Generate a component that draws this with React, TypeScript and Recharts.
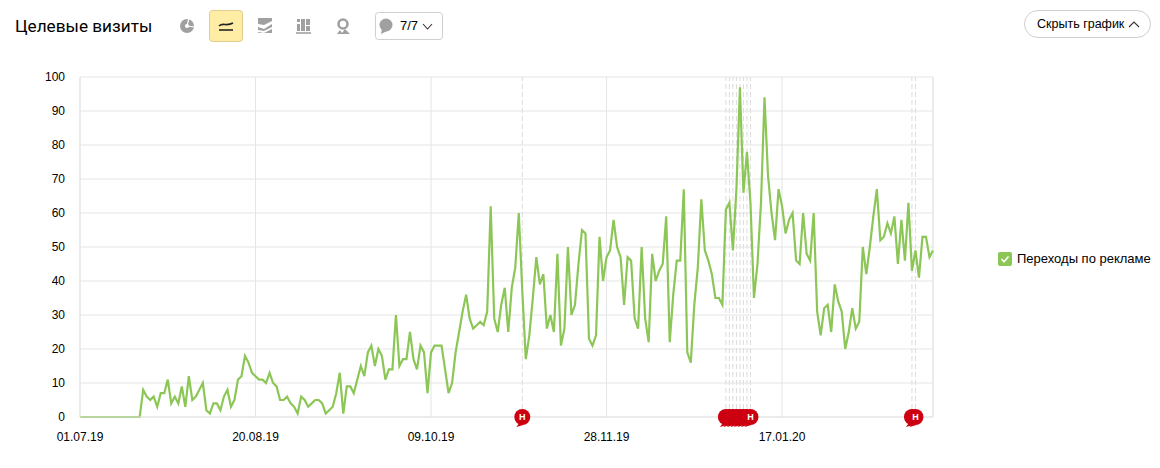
import { CartesianGrid, Legend, Line, LineChart, ReferenceDot, ReferenceLine, XAxis, YAxis } from "recharts";

const visits = [
  0, 0, 0, 0, 0, 0, 0, 0, 0, 0, 0, 0, 0, 0, 0, 0, 0, 0,
  8, 6, 5, 6, 3, 7, 7, 11, 4, 6, 4, 9, 3, 12, 5, 6, 8, 10, 2, 1, 4, 4, 2, 6,
  8, 3, 5, 11, 12, 18, 16, 13, 12, 11, 11, 10, 13, 10, 9, 5, 5, 6, 4, 3, 1, 6,
  5, 3, 4, 5, 5, 4, 1, 2, 3, 7, 13, 1, 9, 9, 7, 11, 15, 12, 19, 21, 15, 20, 18, 11,
  14, 14, 30, 15, 17, 17, 25, 17, 14, 21, 19, 7, 19, 21, 21, 21, 14, 7, 10, 19, 25, 31,
  36, 29, 26, 27, 28, 27, 31, 62, 29, 25, 33, 38, 25, 38, 44, 60, 37, 17, 24, 35,
  47, 39, 42, 26, 30, 25, 48, 21, 26, 50, 30, 33, 45, 55, 54, 23, 21, 24, 53, 40,
  47, 49, 58, 50, 47, 33, 47, 46, 29, 26, 50, 29, 22, 48, 40, 43, 45, 59, 22, 36,
  46, 46, 67, 19, 16, 33, 44, 64, 49, 46, 42, 35, 35, 33, 61, 63, 49, 67, 97, 66,
  78, 63, 35, 45, 63, 94, 71, 60, 52, 67, 62, 54, 58, 60, 46, 45, 60, 48, 46, 60,
  31, 24, 32, 33, 25, 39, 34, 31, 20, 25, 32, 26, 28, 50, 42, 50, 59, 67, 52, 53,
  57, 54, 59, 45, 58, 46, 63, 43, 49, 41, 53, 53, 47, 49,
];

const xTicks = ["01.07.19", "20.08.19", "09.10.19", "28.11.19", "17.01.20"];
const yTicks = [0, 10, 20, 30, 40, 50, 60, 70, 80, 90, 100];
const notes = [
  "04.11.19",
  "01.01.20",
  "02.01.20",
  "03.01.20",
  "04.01.20",
  "05.01.20",
  "06.01.20",
  "07.01.20",
  "08.01.20",
  "23.02.20",
  "24.02.20",
];
// overlapping flags only show the letter on the topmost one
const notesWithLetter = ["04.11.19", "08.01.20", "24.02.20"];

const two = (n: number) => String(n).padStart(2, "0");
const dates = visits.map((_, i) => {
  const d = new Date(Date.UTC(2019, 6, 1 + i));
  return `${two(d.getUTCDate())}.${two(d.getUTCMonth() + 1)}.${two(d.getUTCFullYear() % 100)}`;
});
const data = visits.map((value, i) => ({ date: dates[i], value }));

const GREEN = "#8cc657";
const GRID = "#e5e5e5";
const ARIAL = "'Liberation Sans', Arial, sans-serif";

function NoteMark({ cx, cy, letter }: any) {
  return (
    <g>
      <path d={`M${cx - 3} ${cy + 6} L${cx - 6} ${cy + 10} L${cx + 1} ${cy + 8} Z`} fill="#cc0011" />
      <circle cx={cx} cy={cy} r={8} fill="#cc0011" />
      {letter && (
        <text x={cx} y={cy + 3} textAnchor="middle" fontSize={9} fontWeight="bold" fontFamily={ARIAL} fill="#fff">
          Н
        </text>
      )}
    </g>
  );
}

function LegendBox() {
  return (
    <div style={{ display: "flex", alignItems: "center", fontFamily: ARIAL, fontSize: 13, color: "#000" }}>
      <svg width={14} height={14} style={{ marginRight: 5 }}>
        <rect width={14} height={14} rx={2} fill={GREEN} />
        <path d="M3.5 7 L6 9.8 L10.5 4.5" fill="none" stroke="#fff" strokeWidth={1.6} />
      </svg>
      Переходы по рекламе
    </div>
  );
}

function Toolbar() {
  const grey = "#a0a0a0";
  return (
    <svg width={460} height={50} style={{ position: "absolute", left: 0, top: 0 }}>
      {/* pie */}
      <circle cx={187} cy={26} r={7} fill={grey} />
      <circle cx={187} cy={26} r={2} fill="#fff" />
      <path d="M187 26 L189 18 M187 26 L195 27" stroke="#fff" strokeWidth={1.2} />
      {/* active line button */}
      <rect x={209.5} y={10.5} width={33} height={31} rx={3} fill="#ffeda6" stroke="#e0cd8a" />
      <path d="M219 26 C223 22 226 27 233 23" fill="none" stroke="#222" strokeWidth={1.6} />
      <path d="M219 30 H233" stroke="#222" strokeWidth={1.6} />
      {/* stacked area */}
      <path d="M258 24 L264 25 L272 21 V18 H258 Z M258 27 L264 29 L272 24 V27 L264 31 L258 30 Z M258 33 H272 V29 L264 33 L258 32 Z" fill={grey} />
      {/* columns */}
      <path d="M297 24 h3 v7 h-3 Z M301 19 h4 v12 h-4 Z M306 19 h4 v6 h-4 Z M306 26 h4 v5 h-4 Z M297 19 h3 v3 h-3 Z" fill={grey} />
      <path d="M296 33 H311" stroke={grey} strokeWidth={1.6} />
      {/* map pin */}
      <circle cx={343} cy={24} r={4.5} fill="none" stroke={grey} strokeWidth={2.6} />
      <path d="M337 34 L340 30 L342 33 L345 29 L350 34 Z" fill={grey} />
      {/* notes button */}
      <rect x={375.5} y={12.5} width={67} height={27} rx={3} fill="#fff" stroke="#cfcfcf" />
      <circle cx={386} cy={25} r={6.5} fill={grey} />
      <path d="M382 29 L381 34 L387 31 Z" fill={grey} />
      <text x={400} y={30} fontFamily={ARIAL} fontSize={13} fill="#000">
        7/7
      </text>
      <path d="M423 24 L427.5 29 L432 24" fill="none" stroke="#333" strokeWidth={1.1} />
    </svg>
  );
}

export default function App() {
  return (
    <div style={{ position: "absolute", left: 0, top: 0, width: 1160, height: 468, overflow: "hidden", background: "#fff" }}>
      <div style={{ position: "absolute", left: 15, top: 15, fontFamily: "Roboto, sans-serif", fontSize: 17.2, lineHeight: "22px", color: "#000" }}>
        Целевые визиты
      </div>
      <Toolbar />
      <div
        style={{
          position: "absolute",
          left: 1024,
          top: 10,
          width: 113,
          height: 26,
          border: "1px solid #cfcfcf",
          borderRadius: 14,
          fontFamily: ARIAL,
          fontSize: 12.5,
          lineHeight: "26px",
          color: "#000",
          paddingLeft: 12,
          whiteSpace: "nowrap",
        }}
      >
        Скрыть график
        <svg width={12} height={8} style={{ position: "absolute", left: 103, top: 9 }}>
          <path d="M1 7 L6 2 L11 7" fill="none" stroke="#333" strokeWidth={1.1} />
        </svg>
      </div>
      <LineChart width={1160} height={468} data={data} margin={{ top: 77, right: 67, bottom: 0, left: 0 }}>
        <CartesianGrid stroke={GRID} />
        <XAxis
          dataKey="date"
          ticks={xTicks}
          interval={0}
          height={51}
          tickLine={false}
          axisLine={{ stroke: GRID }}
          tickMargin={9}
          tick={{ fontSize: 12, fontFamily: ARIAL, fill: "#000" }}
        />
        <YAxis
          domain={[0, 100]}
          ticks={yTicks}
          width={80}
          tickLine={false}
          axisLine={{ stroke: GRID }}
          tickMargin={9}
          tick={{ fontSize: 12, fontFamily: ARIAL, fill: "#000" }}
        />
        <ReferenceLine x={dates[dates.length - 1]} stroke={GRID} />
        {notes.map((d) => (
          <ReferenceLine key={d} x={d} stroke="#dcdcdc" strokeDasharray="5 3" />
        ))}
        <Legend
          layout="vertical"
          align="right"
          verticalAlign="top"
          content={<LegendBox />}
          wrapperStyle={{ left: 998, top: 251, width: 160 }}
        />
        <Line dataKey="value" type="linear" stroke={GREEN} strokeWidth={2.2} dot={false} activeDot={false} isAnimationActive={false} />
        {notes.map((d) => (
          <ReferenceDot
            key={d}
            x={d}
            y={0}
            shape={(props: any) => <NoteMark {...props} letter={notesWithLetter.includes(d)} />}
          />
        ))}
      </LineChart>
    </div>
  );
}
